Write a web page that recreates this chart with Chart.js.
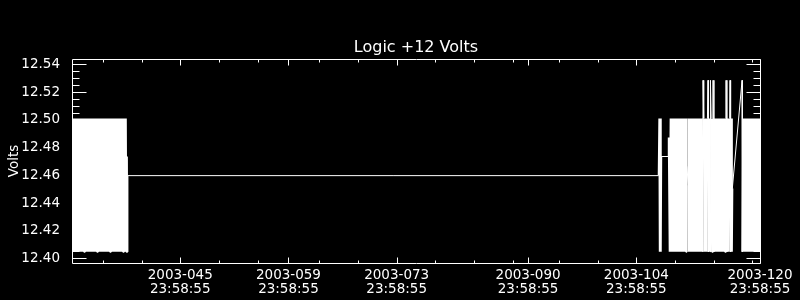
<!DOCTYPE html>
<html>
<head>
<meta charset="utf-8">
<title>Logic +12 Volts</title>
<script src="https://cdn.jsdelivr.net/npm/chart.js@4.4.1/dist/chart.umd.min.js"></script>
<style>
  html, body { margin: 0; padding: 0; background: #000; }
  #wrap { width: 800px; height: 300px; }
</style>
</head>
<body>
<div id="wrap"><canvas id="voltsChart" width="800" height="300"></canvas></div>
<script>
// x is the 2003 day of year, counted from 23:58:55 (all tick labels sit on that time)
const xMin = 31;
const xMax = 120;
const yMin = 12.39675;
const yMax = 12.54397;

const xMajorDays = [45, 59, 73, 90, 104, 120];
const xTickLabels = [
    ['2003-045', '23:58:55'],
    ['2003-059', '23:58:55'],
    ['2003-073', '23:58:55'],
    ['2003-090', '23:58:55'],
    ['2003-104', '23:58:55'],
    ['2003-120', '23:58:55']
];
const xMinorDays = [35, 40, 50, 55, 63, 68, 78, 83, 88, 94, 99, 109, 114, 119];
const yMajorTicks = [12.40, 12.42, 12.44, 12.46, 12.48, 12.50, 12.52, 12.54];
const yMinorSteps = 4;

// first pass of samples, days 031-038
const passADays = [
    30.88, 31.00, 31.12, 31.24, 31.36, 31.48, 31.60, 31.72, 31.84, 31.96,
    32.08, 32.20, 32.32, 32.44, 32.56, 32.68, 32.80, 32.92, 33.04, 33.16,
    33.28, 33.40, 33.52, 33.64, 33.76, 33.88, 34.00, 34.12, 34.24, 34.36,
    34.48, 34.60, 34.72, 34.84, 34.96, 35.08, 35.20, 35.32, 35.44, 35.56,
    35.68, 35.80, 35.92, 36.04, 36.16, 36.28, 36.40, 36.52, 36.64, 36.76,
    36.88, 37.00, 37.12, 37.24, 37.36, 37.48, 37.60, 37.72, 37.84, 37.96,
    38.04, 38.10, 38.15, 38.17
];
const passAVolts = [
    12.4048, 12.5011, 12.4048, 12.5011, 12.4048, 12.5011, 12.4048, 12.5011, 12.4048, 12.5011,
    12.4048, 12.5011, 12.4048, 12.5011, 12.4048, 12.5011, 12.4048, 12.5011, 12.4048, 12.5011,
    12.4048, 12.5011, 12.4048, 12.5011, 12.4048, 12.5011, 12.4048, 12.5011, 12.4048, 12.5011,
    12.4048, 12.5011, 12.4048, 12.5011, 12.4048, 12.5011, 12.4048, 12.5011, 12.4048, 12.5011,
    12.4048, 12.5011, 12.4048, 12.5011, 12.4048, 12.5011, 12.4048, 12.5011, 12.4048, 12.5011,
    12.4048, 12.5011, 12.4048, 12.5011, 12.4048, 12.5011, 12.4048, 12.5011, 12.4048, 12.5011,
    12.4048, 12.4736, 12.4048, 12.4598
];

// second pass, days 106-120
const passBDays = [
    106.90, 106.98, 107.02, 107.06, 107.10, 107.14, 107.18, 107.22, 108.18, 108.20,
    108.32, 108.44, 108.56, 108.68, 108.80, 108.92, 109.04, 109.16, 109.28, 109.40,
    109.52, 109.64, 109.76, 109.88, 110.00, 110.12, 110.24, 110.36, 110.44, 110.50,
    110.53, 110.74, 110.76, 110.80, 110.92, 111.04, 111.16, 111.28, 111.40, 111.52,
    111.64, 111.76, 111.88, 112.00, 112.12, 112.24, 112.36, 112.48, 112.60, 112.63,
    112.72, 112.84, 112.96, 113.08, 113.20, 113.28, 113.32, 113.44, 113.56, 113.59,
    113.68, 113.80, 113.92, 113.93, 114.04, 114.16, 114.28, 114.40, 114.52, 114.64,
    114.76, 114.88, 115.00, 115.12, 115.24, 115.36, 115.48, 115.60, 115.61, 115.72,
    115.84, 115.96, 116.08, 116.12, 116.20, 116.28, 116.36, 116.42, 117.68, 117.72,
    117.84, 117.96, 118.08, 118.20, 118.32, 118.44, 118.56, 118.68, 118.80, 118.92,
    119.04, 119.16, 119.28, 119.40, 119.52, 119.64, 119.76, 119.88, 120.00, 120.12
];
const passBVolts = [
    12.4598, 12.5011, 12.4048, 12.5011, 12.4323, 12.5011, 12.4048, 12.4736, 12.4736, 12.4873,
    12.4048, 12.5011, 12.4048, 12.5011, 12.4048, 12.5011, 12.4048, 12.5011, 12.4048, 12.5011,
    12.4048, 12.5011, 12.4048, 12.5011, 12.4048, 12.5011, 12.4048, 12.5011, 12.4048, 12.5011,
    12.4666, 12.4529, 12.4048, 12.5011, 12.4048, 12.5011, 12.4048, 12.5011, 12.4048, 12.5011,
    12.4048, 12.5011, 12.4048, 12.5011, 12.4048, 12.5011, 12.4048, 12.5011, 12.4048, 12.5286,
    12.5011, 12.4048, 12.5011, 12.4048, 12.5011, 12.5286, 12.4048, 12.5011, 12.4048, 12.5286,
    12.5011, 12.4048, 12.5011, 12.5286, 12.4048, 12.5011, 12.4048, 12.5011, 12.4048, 12.5011,
    12.4048, 12.5011, 12.4048, 12.5011, 12.4048, 12.5011, 12.4048, 12.5011, 12.5286, 12.4048,
    12.5011, 12.4048, 12.5011, 12.5286, 12.4048, 12.5011, 12.4048, 12.4505, 12.5286, 12.4048,
    12.5011, 12.4048, 12.5011, 12.4048, 12.5011, 12.4048, 12.5011, 12.4048, 12.5011, 12.4048,
    12.5011, 12.4048, 12.5011, 12.4048, 12.5011, 12.4048, 12.5011, 12.4048, 12.5011, 12.4048
];

const allDays = passADays.concat(passBDays);
const allVolts = passAVolts.concat(passBVolts);
const points = allDays.map((d, i) => ({ x: d, y: allVolts[i] }));

// box round the plot with the ticks pointing inwards
const frameTicks = {
    id: 'frameTicks',
    beforeDatasetsDraw(chart) {
        const { ctx, chartArea, scales } = chart;
        const left = Math.round(chartArea.left) + 0.5;
        const right = Math.round(chartArea.right) + 0.5;
        const top = Math.round(chartArea.top) + 0.5;
        const bottom = Math.round(chartArea.bottom) + 0.5;

        ctx.save();
        ctx.strokeStyle = '#ffffff';
        ctx.lineWidth = 1;
        ctx.beginPath();
        ctx.rect(left, top, right - left, bottom - top);

        function xTick(day, len) {
            const px = Math.round(scales.x.getPixelForValue(day)) + 0.5;
            ctx.moveTo(px, bottom);
            ctx.lineTo(px, bottom - len);
            ctx.moveTo(px, top);
            ctx.lineTo(px, top + len);
        }
        function yTick(v, len) {
            const py = Math.floor(scales.y.getPixelForValue(v)) + 0.5;
            ctx.moveTo(left, py);
            ctx.lineTo(left + len, py);
            ctx.moveTo(right, py);
            ctx.lineTo(right - len, py);
        }

        xMajorDays.forEach(d => xTick(d, 6));
        xMinorDays.forEach(d => xTick(d, 3));
        yMajorTicks.forEach((v, i) => {
            yTick(v, 14);
            if (i < yMajorTicks.length - 1) {
                const step = (yMajorTicks[i + 1] - v) / yMinorSteps;
                for (let k = 1; k < yMinorSteps; k++) {
                    yTick(v + k * step, 7);
                }
            }
        });
        ctx.stroke();
        ctx.restore();
    }
};

Chart.defaults.color = '#ffffff';
Chart.defaults.font.family = '"DejaVu Sans", sans-serif';
Chart.defaults.font.size = 13.5;

const ctx = document.getElementById('voltsChart').getContext('2d');
const voltsChart = new Chart(ctx, {
    type: 'line',
    data: {
        datasets: [{
            label: 'Logic +12 Volts',
            data: points,
            borderColor: '#ffffff',
            borderWidth: 1,
            borderJoinStyle: 'bevel',
            pointRadius: 0,
            tension: 0,
            fill: false,
            clip: 0,
            segment: {
                // dense stretches get a wider pen so they read as a solid band
                borderWidth: c => {
                    if (c.p1.x - c.p0.x > 1.2) return 1;
                    if (allVolts[c.p0DataIndex] > 12.515 || allVolts[c.p1DataIndex] > 12.515) return 1;
                    return 2;
                }
            }
        }]
    },
    options: {
        responsive: false,
        devicePixelRatio: 1,
        animation: false,
        events: [],
        layout: {
            padding: { left: 0, right: 40, top: 0, bottom: 0 }
        },
        plugins: {
            legend: { display: false },
            tooltip: { enabled: false },
            title: {
                display: true,
                text: 'Logic +12 Volts',
                color: '#ffffff',
                fullSize: false,
                font: { size: 16, weight: 'normal', lineHeight: 1.25 },
                padding: { top: 38, bottom: 1 }
            }
        },
        scales: {
            x: {
                type: 'linear',
                min: xMin,
                max: xMax,
                grid: { display: false },
                border: { display: false },
                ticks: {
                    autoSkip: false,
                    maxRotation: 0,
                    padding: -3,
                    font: { size: 13.5, lineHeight: 1.06 },
                    callback: (value, index) => xTickLabels[index]
                },
                afterBuildTicks: scale => {
                    scale.ticks = xMajorDays.map(d => ({ value: d }));
                },
                afterFit: scale => {
                    scale.height = 37;
                    scale.paddingLeft = 0;
                    scale.paddingRight = 0;
                }
            },
            y: {
                type: 'linear',
                min: yMin,
                max: yMax,
                grid: { display: false },
                border: { display: false },
                title: {
                    display: true,
                    text: 'Volts',
                    color: '#ffffff',
                    font: { size: 13.5 },
                    padding: { top: 6, bottom: 0 }
                },
                ticks: {
                    autoSkip: false,
                    padding: 4,
                    callback: value => value.toFixed(2)
                },
                afterBuildTicks: scale => {
                    scale.ticks = yMajorTicks.map(v => ({ value: v }));
                },
                afterFit: scale => {
                    scale.width = 72;
                    scale.paddingTop = 0;
                    scale.paddingBottom = 0;
                }
            }
        }
    },
    plugins: [frameTicks]
});
</script>
</body>
</html>
